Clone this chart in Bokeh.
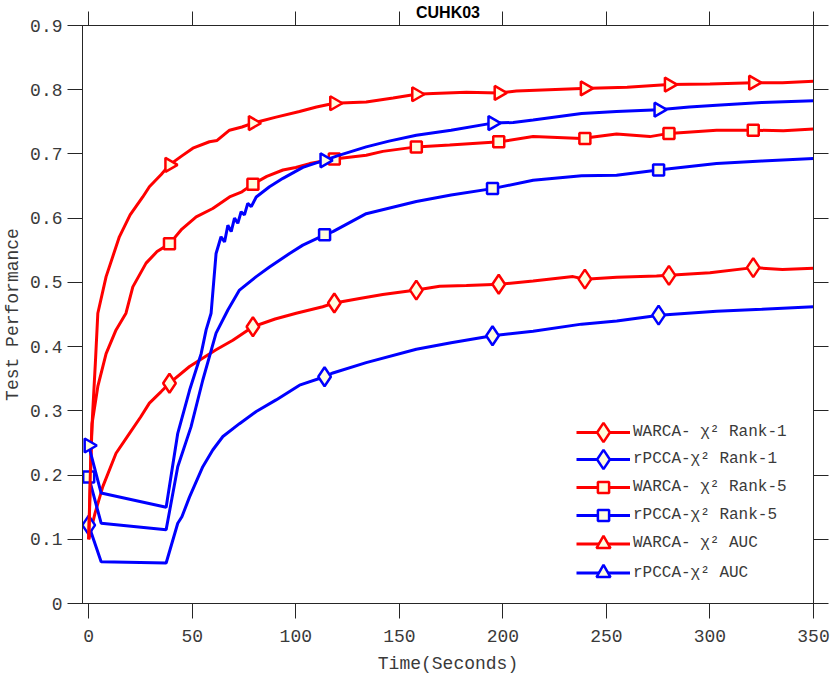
import math
from bokeh.plotting import figure
from bokeh.models import (LinearAxis, Range1d, FixedTicker, Legend, LegendItem,
                          CustomJSTickFormatter)
from bokeh.embed import file_html
from bokeh.resources import INLINE

# ---------------- data ----------------
TITLE = "CUHK03"
X_LABEL = "Time(Seconds)"
Y_LABEL = "Test Performance"
X_TICKS = [0, 50, 100, 150, 200, 250, 300, 350]
Y_TICKS = [0, 0.1, 0.2, 0.3, 0.4, 0.5, 0.6, 0.7, 0.8, 0.9]

LABELS = ["WARCA- \u03c7\u00b2 Rank-1", "rPCCA-\u03c7\u00b2 Rank-1",
          "WARCA- \u03c7\u00b2 Rank-5", "rPCCA-\u03c7\u00b2 Rank-5",
          "WARCA- \u03c7\u00b2 AUC", "rPCCA-\u03c7\u00b2 AUC"]

# WARCA chi2 Rank-1
w_r1_x = [0, 3, 6.8, 13.2, 19.7, 25, 29.3, 35, 39, 48.7, 55, 61.5, 69.6, 79.3, 90, 100.2,
          113, 118.7, 130.8, 142, 158.2, 169.5, 182.4, 198.5, 214.6, 233.9, 239.6, 255,
          274.2, 280.3, 300, 320.9, 335, 350]
w_r1_y = [0.10, 0.14, 0.182, 0.234, 0.265, 0.290, 0.312, 0.330, 0.343, 0.369, 0.382, 0.395,
          0.410, 0.431, 0.443, 0.452, 0.462, 0.468, 0.475, 0.481, 0.488, 0.494, 0.495, 0.497,
          0.502, 0.509, 0.505, 0.508, 0.510, 0.511, 0.515, 0.523, 0.520, 0.522]
# rPCCA chi2 Rank-1
r_r1_x = [0, 6, 37.4, 43, 45, 48.7, 55.1, 59.9, 64.8, 72.8, 80.9, 90.5, 101.8, 113.9, 117.9,
          134, 158.2, 175, 194.9, 214.6, 238, 255, 275.5, 303.2, 325, 350]
r_r1_y = [0.122, 0.065, 0.063, 0.125, 0.135, 0.166, 0.213, 0.239, 0.260, 0.280, 0.299, 0.317,
          0.340, 0.353, 0.359, 0.375, 0.396, 0.406, 0.417, 0.424, 0.435, 0.440, 0.449, 0.455,
          0.458, 0.462]
# WARCA chi2 Rank-5
w_r5_x = [0, 1.6, 4.4, 8.4, 13.2, 18, 21.3, 27.7, 33, 39, 45, 51.9, 59.9, 68, 74, 79.3, 86,
          93.8, 100, 106.7, 118.6, 134, 142, 158.2, 174.3, 198.5, 214.6, 238, 254.9, 271,
          280.2, 303.2, 320.9, 335.4, 350]
w_r5_y = [0.10, 0.280, 0.338, 0.389, 0.426, 0.452, 0.493, 0.530, 0.548, 0.560, 0.583, 0.602,
          0.615, 0.633, 0.641, 0.653, 0.665, 0.675, 0.679, 0.685, 0.692, 0.698, 0.704, 0.711,
          0.714, 0.719, 0.727, 0.724, 0.731, 0.727, 0.732, 0.737, 0.737, 0.736, 0.739]
# rPCCA chi2 Rank-5
r_r5_x = [0, 6, 37.4, 43, 49.4, 55.1, 61.5, 66.4, 67.2, 72.8, 80.9, 87.3, 97, 103.4, 113.9,
          117.9, 134, 158.2, 175, 194.9, 214.6, 238, 254.9, 275, 303.2, 325, 350]
r_r5_y = [0.197, 0.125, 0.115, 0.213, 0.275, 0.348, 0.421, 0.452, 0.457, 0.488, 0.509, 0.524,
          0.545, 0.558, 0.574, 0.579, 0.607, 0.626, 0.636, 0.646, 0.659, 0.666, 0.667, 0.675,
          0.685, 0.689, 0.693]
# WARCA chi2 AUC
w_auc_x = [0, 1.1, 1.9, 3.2, 4.4, 8.4, 14.8, 20, 26.1, 29.3, 35, 39, 45, 50.3, 58.3, 62, 68,
           74, 79.3, 90, 101.8, 110, 118.6, 134, 147, 158.2, 166.3, 182.4, 198, 206.5, 238,
           260, 280.2, 300, 320.9, 335, 350]
w_auc_y = [0.10, 0.244, 0.296, 0.374, 0.452, 0.509, 0.571, 0.605, 0.633, 0.649, 0.668, 0.683,
           0.697, 0.709, 0.719, 0.721, 0.737, 0.742, 0.748, 0.757, 0.766, 0.773, 0.779, 0.781,
           0.787, 0.793, 0.794, 0.796, 0.795, 0.798, 0.802, 0.804, 0.808, 0.809, 0.811, 0.811,
           0.813]
# rPCCA chi2 AUC
r_auc_x = [0, 6, 37.4, 43, 48.7, 54.3, 56.7, 59.1, 61.5, 63.9, 65.6, 67.2, 68.8, 70.4, 72,
           73.6, 75.2, 76.8, 78.5, 80.9, 87.3, 93.8, 103.4, 109.9, 113.9, 120, 134, 145, 158.2,
           175, 195, 205, 214.6, 238, 254.9, 275.2, 290, 303.2, 325, 350]
r_auc_y = [0.246, 0.172, 0.150, 0.265, 0.332, 0.389, 0.426, 0.452, 0.545, 0.571, 0.563, 0.589,
           0.579, 0.600, 0.592, 0.610, 0.605, 0.623, 0.618, 0.633, 0.649, 0.662, 0.679, 0.686,
           0.690, 0.697, 0.711, 0.720, 0.729, 0.737, 0.748, 0.749, 0.753, 0.763, 0.766, 0.769,
           0.773, 0.776, 0.780, 0.783]

# marker positions
warca_mx = [39, 79.3, 118.6, 158.2, 198, 239.6, 280.2, 320.9]
w_r1_my = [0.343, 0.431, 0.468, 0.488, 0.497, 0.505, 0.511, 0.523]
w_r5_my = [0.560, 0.653, 0.692, 0.711, 0.719, 0.724, 0.732, 0.737]
w_auc_my = [0.683, 0.748, 0.779, 0.793, 0.795, 0.802, 0.808, 0.811]
rpcca_mx = [0, 113.9, 195, 275.2]
r_r1_my = [0.122, 0.353, 0.417, 0.449]
r_r5_my = [0.197, 0.574, 0.646, 0.675]
r_auc_my = [0.246, 0.690, 0.748, 0.769]

# ---------------- styles ----------------
RED = "#ff0000"
BLUE = "#0000ff"
FACE = "#fffde0"
AX = "#262626"
TXT = "#3a3a3a"
MONO = "Liberation Mono"

p = figure(width=830, height=676, output_backend="svg", toolbar_location=None,
           x_range=Range1d(-3, 350), y_range=Range1d(0, 0.9),
           min_border_left=82, min_border_right=17, min_border_top=24, min_border_bottom=72,
           background_fill_color="white", border_fill_color="white")
p.xgrid.visible = False
p.ygrid.visible = False
p.outline_line_color = AX
p.outline_line_width = 1

yfmt = CustomJSTickFormatter(code="return tick == 0 ? '0' : tick.toFixed(1);")
nofmt = CustomJSTickFormatter(code="return '';")

def style_axis(ax, tick_out):
    ax.axis_line_color = AX
    ax.major_tick_line_color = AX
    ax.major_tick_out = tick_out
    ax.major_tick_in = 0
    ax.minor_tick_line_color = None
    ax.major_label_text_font = MONO
    ax.major_label_text_font_size = "18px"
    ax.major_label_text_color = TXT
    ax.axis_label_text_font = MONO
    ax.axis_label_text_font_size = "18px"
    ax.axis_label_text_font_style = "normal"
    ax.axis_label_text_color = TXT

xa = p.xaxis[0]
xa.ticker = FixedTicker(ticks=X_TICKS)
style_axis(xa, 15)
xa.major_label_standoff = 11
xa.axis_label = X_LABEL
xa.axis_label_standoff = 9

ya = p.yaxis[0]
ya.ticker = FixedTicker(ticks=Y_TICKS)
ya.formatter = yfmt
style_axis(ya, 15)
ya.major_label_standoff = 5
ya.axis_label = Y_LABEL
ya.axis_label_standoff = 4

top = LinearAxis(ticker=FixedTicker(ticks=X_TICKS), formatter=nofmt)
style_axis(top, 14)
top.major_label_standoff = 0
top.axis_label = TITLE
top.axis_label_text_font = "Liberation Sans"
top.axis_label_text_font_style = "bold"
top.axis_label_text_font_size = "16px"
top.axis_label_text_color = "black"
top.axis_label_standoff = -9
p.add_layout(top, "above")

right = LinearAxis(ticker=FixedTicker(ticks=Y_TICKS), formatter=nofmt)
style_axis(right, 15)
right.major_label_standoff = 0
p.add_layout(right, "right")

series = [
    (w_r1_x, w_r1_y, warca_mx, w_r1_my, RED, "diamond"),
    (r_r1_x, r_r1_y, rpcca_mx, r_r1_my, BLUE, "diamond"),
    (w_r5_x, w_r5_y, warca_mx, w_r5_my, RED, "square"),
    (r_r5_x, r_r5_y, rpcca_mx, r_r5_my, BLUE, "square"),
    (w_auc_x, w_auc_y, warca_mx, w_auc_my, RED, "triangle"),
    (r_auc_x, r_auc_y, rpcca_mx, r_auc_my, BLUE, "triangle"),
]
SIZES = {"diamond": 19, "square": 11, "triangle": 14}
# legend glyph box heights (legend marker size = 0.4 * box) per marker type
LEG_GH = {"diamond": 48, "square": 28, "triangle": 35}
# legend row centres, px above frame bottom
LEG_ROWS = [171, 144, 116, 88, 60, 30.5]

for (lx, ly, mx, my, col, mk), lab, rc in zip(series, LABELS, LEG_ROWS):
    ln = p.line(lx, ly, line_color=col, line_width=3)
    kw = {}
    if mk == "triangle":
        kw["angle"] = -math.pi / 2
    sc = p.scatter(mx, my, marker=mk, size=SIZES[mk], line_color=col, line_width=2.5,
                   fill_color=FACE, **kw)
    gh = LEG_GH[mk]
    lg = Legend(items=[LegendItem(label=lab, renderers=[ln, sc])],
                location=(494, rc - gh / 2), glyph_width=54, glyph_height=gh,
                label_height=20, spacing=0, label_standoff=3, padding=0, margin=0,
                border_line_alpha=0, background_fill_alpha=0,
                label_text_font=MONO, label_text_font_size="16px", label_text_color=TXT)
    p.add_layout(lg)

open("out.html", "w").write(file_html(p, INLINE))
